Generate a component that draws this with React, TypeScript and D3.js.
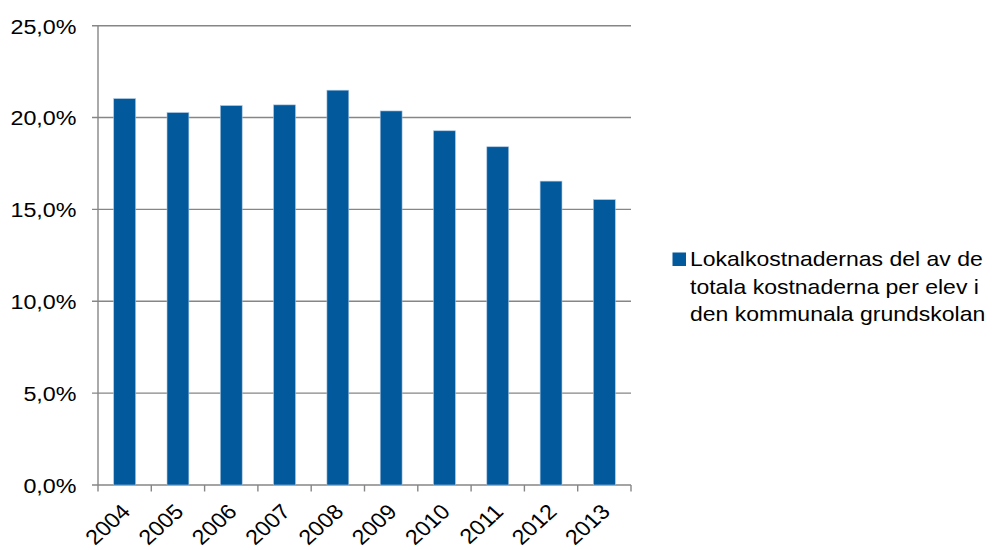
import React from "react";
import * as d3 from "d3";

const categories = ["2004", "2005", "2006", "2007", "2008", "2009", "2010", "2011", "2012", "2013"];
const values = [21.03, 20.27, 20.65, 20.69, 21.49, 20.36, 19.28, 18.41, 16.54, 15.53];
const yTicks = [0, 5, 10, 15, 20, 25];
const legendLines = ["Lokalkostnadernas del av de", "totala kostnaderna per elev i", "den kommunala grundskolan"];

const W = 998, H = 550;
const left = 98, right = 631, top = 25.7, bottom = 485;
const font = "'Liberation Sans', Arial, sans-serif";
const SX = 1.11;

export default function App() {
  const x = d3.scaleBand<string>().domain(categories).range([left, right]).paddingInner(0.59).paddingOuter(0.295);
  const y = d3.scaleLinear().domain([0, 25]).range([bottom, top]);
  const band = (right - left) / categories.length;
  const fmt = (v: number) => v.toFixed(1).replace(".", ",") + "%";
  return (
    <svg width={W} height={H} style={{ position: "absolute", left: 0, top: 0, background: "#fff" }} fontFamily={font}>
      {yTicks.map((t) => (
        <g key={t}>
          <line x1={left - 6} x2={right} y1={y(t)} y2={y(t)} stroke="#868686" strokeWidth={1.4} />
          <text transform={`translate(76.5 ${y(t) + 7.8}) scale(${SX} 1)`} textAnchor="end" fontSize={21} fill="#000">{fmt(t)}</text>
        </g>
      ))}
      <line x1={left} x2={left} y1={top} y2={bottom} stroke="#868686" strokeWidth={1.4} />
      {d3.range(categories.length + 1).map((i) => (
        <line key={i} x1={left + i * band} x2={left + i * band} y1={bottom} y2={bottom + 6.5} stroke="#868686" strokeWidth={1.4} />
      ))}
      {categories.map((c, i) => (
        <rect key={c} x={x(c)!} y={y(values[i])} width={x.bandwidth()} height={bottom - y(values[i])}
          fill="#02599c" stroke="#a9c4e0" strokeWidth={0.6} />
      ))}
      {categories.map((c) => {
        const cx = x(c)! + x.bandwidth() / 2 + 7;
        const cy = bottom + 28;
        return (
          <text key={c} transform={`translate(${cx} ${cy}) scale(${SX} 1) rotate(-45)`} textAnchor="end" fontSize={21} fill="#000">{c}</text>
        );
      })}
      <rect x={672.5} y={252.5} width={13.5} height={13.5} fill="#02599c" />
      {legendLines.map((l, i) => (
        <text key={i} transform={`translate(690 ${266 + i * 27.5}) scale(1.15 1)`} fontSize={20} fill="#000">{l}</text>
      ))}
    </svg>
  );
}
